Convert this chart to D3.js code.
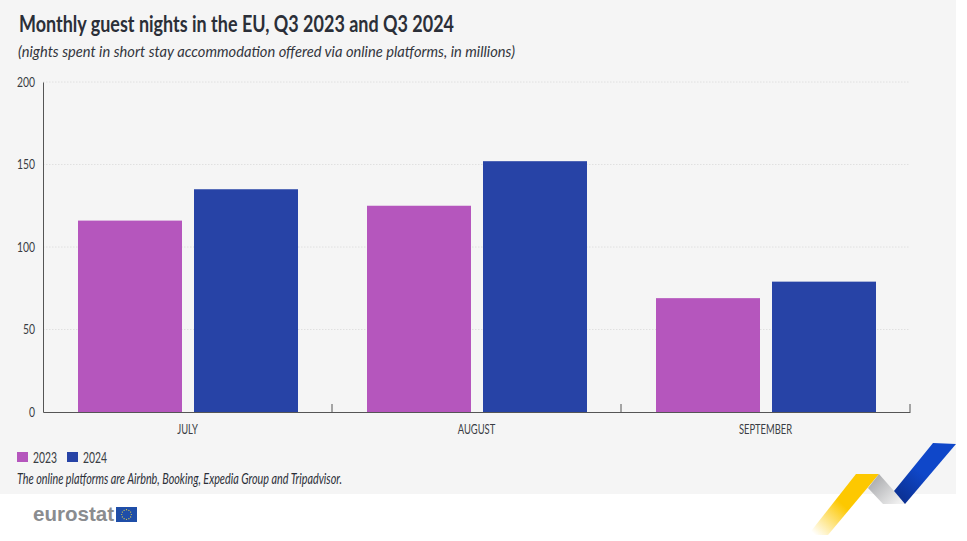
<!DOCTYPE html>
<html>
<head>
<meta charset="utf-8">
<script src="https://cdnjs.cloudflare.com/ajax/libs/d3/7.8.5/d3.min.js"></script>
<style>
  html, body { margin: 0; padding: 0; background: #fff; }
  svg { display: block; }
  text { font-family: Lato, "Open Sans", sans-serif; }
</style>
</head>
<body>
<div id="chart"></div>
<script>
const months = ["JULY", "AUGUST", "SEPTEMBER"];
const years = ["2023", "2024"];
const values2023 = [116, 125, 69];
const values2024 = [135, 152, 79];
const yTicks = [0, 50, 100, 150, 200];
const colors = ["#b556bd", "#2743a6"];

const title = "Monthly guest nights in the EU, Q3 2023 and Q3 2024";
const subtitle = "(nights spent in short stay accommodation offered via online platforms, in millions)";
const note = "The online platforms are Airbnb, Booking, Expedia Group and Tripadvisor.";

const width = 967, height = 541;
const svg = d3.select("#chart").append("svg").attr("width", width).attr("height", height);
const defs = svg.append("defs");

// the original font is condensed, so squeeze the glyphs to the measured width
function squeeze(sel, k) {
  sel.each(function() {
    d3.select(this).attr("textLength", this.getComputedTextLength() * k).attr("lengthAdjust", "spacingAndGlyphs");
  });
}

// panel
svg.append("rect").attr("width", 956).attr("height", 494).attr("fill", "#f5f5f5");

svg.append("text").text(title).attr("x", 19).attr("y", 32)
  .attr("font-size", 22).attr("font-weight", "bold").attr("fill", "#2b2f38")
  .attr("textLength", 435).attr("lengthAdjust", "spacingAndGlyphs");
svg.append("text").text(subtitle).attr("x", 18).attr("y", 57)
  .attr("font-size", 15).attr("font-style", "italic").attr("fill", "#33363d")
  .attr("textLength", 497).attr("lengthAdjust", "spacingAndGlyphs");

// scales
const x0 = d3.scaleBand().domain(months).range([43, 910]);
const x1 = d3.scaleBand().domain(years).range([35, 255]).paddingInner(12 / 116);
const y = d3.scaleLinear().domain([0, 200]).range([412, 82]);

// grid
svg.append("g").selectAll("line").data(yTicks.filter(d => d > 0)).join("line")
  .attr("x1", 43).attr("x2", 910)
  .attr("y1", d => y(d)).attr("y2", d => y(d))
  .attr("stroke", "#e0e0e0").attr("stroke-width", 1).attr("stroke-dasharray", "1.5 1.5");

// bars
const series = [values2023, values2024];
series.forEach(function(vals, i) {
  svg.append("g").selectAll("rect").data(vals).join("rect")
    .attr("x", (d, j) => x0(months[j]) + x1(years[i]))
    .attr("y", d => y(d))
    .attr("width", x1.bandwidth())
    .attr("height", d => y(0) - y(d))
    .attr("fill", colors[i]);
});

// axes
const yAxis = svg.append("g").attr("transform", "translate(43,0)")
  .call(d3.axisLeft(y).tickValues(yTicks).tickSize(0).tickPadding(8));
yAxis.select(".domain").attr("stroke", "#555");
yAxis.selectAll("text").attr("font-size", 14).attr("fill", "#3a3d44")
  .style("font-family", "Lato, sans-serif").call(squeeze, 0.74);

const xAxis = svg.append("g").attr("transform", "translate(0,412)")
  .call(d3.axisBottom(x0).tickSize(0).tickPadding(12));
xAxis.select(".domain").attr("stroke", "#555");
xAxis.selectAll("text").attr("font-size", 14).attr("fill", "#3a3d44")
  .style("font-family", "Lato, sans-serif").call(squeeze, 0.67);

// separators between months
svg.append("g").selectAll("line").data(months).join("line")
  .attr("x1", d => x0(d) + x0.bandwidth()).attr("x2", d => x0(d) + x0.bandwidth())
  .attr("y1", 404).attr("y2", 412)
  .attr("stroke", "#555");

// legend
const legendX = [17, 67];
years.forEach(function(yr, i) {
  svg.append("rect").attr("x", legendX[i]).attr("y", 452).attr("width", 11).attr("height", 10).attr("fill", colors[i]);
  svg.append("text").text(yr).attr("x", legendX[i] + 16).attr("y", 463)
    .attr("font-size", 15).attr("fill", "#3a3d44")
    .attr("textLength", 24).attr("lengthAdjust", "spacingAndGlyphs");
});

svg.append("text").text(note).attr("x", 17).attr("y", 484)
  .attr("font-size", 15).attr("font-style", "italic").attr("fill", "#2b2f38")
  .attr("textLength", 325).attr("lengthAdjust", "spacingAndGlyphs");

// eurostat logo
svg.append("text").text("eurostat").attr("x", 33).attr("y", 521)
  .attr("font-size", 21).attr("font-weight", "bold").attr("fill", "#8a8c8f")
  .attr("textLength", 81).attr("lengthAdjust", "spacingAndGlyphs")
  .style("font-family", "'Liberation Sans', sans-serif");
svg.append("rect").attr("x", 116).attr("y", 507).attr("width", 21).attr("height", 15).attr("fill", "#1f4ea8");
svg.append("g").selectAll("circle").data(d3.range(12)).join("circle")
  .attr("cx", d => 126.5 + 4.8 * Math.cos(d * Math.PI / 6))
  .attr("cy", d => 514.5 + 4.8 * Math.sin(d * Math.PI / 6))
  .attr("r", 0.6).attr("fill", "#e8d24a");

// corner ribbon
function ribbon(id, pts, stops, x1g, y1g, x2g, y2g) {
  const g = defs.append("linearGradient").attr("id", id).attr("gradientUnits", "userSpaceOnUse")
    .attr("x1", x1g).attr("y1", y1g).attr("x2", x2g).attr("y2", y2g);
  stops.forEach(s => g.append("stop").attr("offset", s[0]).attr("stop-color", s[1]).attr("stop-opacity", s[2]));
  svg.append("polygon").attr("points", pts).attr("fill", "url(#" + id + ")");
}
ribbon("gy", "856,474 879,474 828,535 808,535",
  [[0, "#fdc800", 1], [0.45, "#fdc800", 1], [1, "#fdc800", 0]], 866, 480, 815, 535);
ribbon("gg", "879,474 868,488 883,504 905,504 894,491",
  [[0, "#a9aaad", 1], [1, "#f0f0f0", 1]], 870, 480, 896, 506);
ribbon("gb", "933,443 956,444 905,504 894,491",
  [[0, "#0f47c9", 1], [0.5, "#0f47c9", 1], [1, "#0b2f8f", 1]], 945, 445, 898, 500);
</script>
</body>
</html>
